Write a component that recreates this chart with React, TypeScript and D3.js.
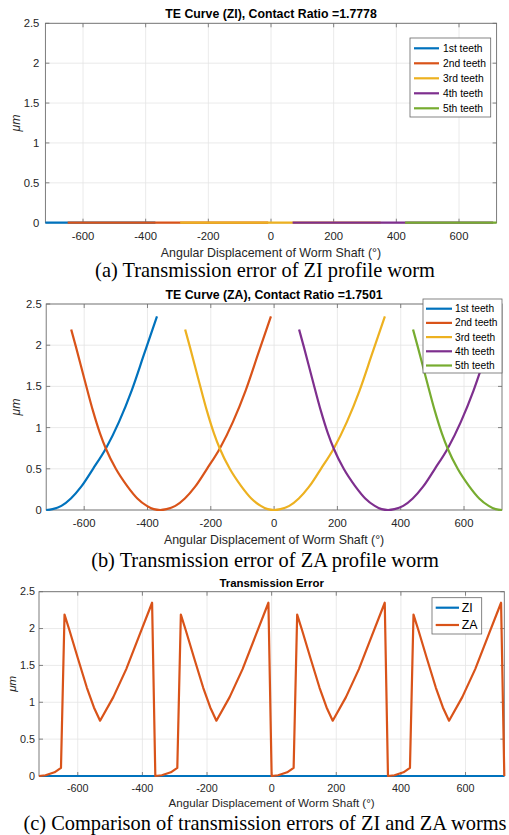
import React, { useRef, useEffect } from 'react';
import * as d3 from 'd3';

type Pt = [number, number];

// Axis ticks shared by the three plots
const xTicks = [-600, -400, -200, 0, 200, 400, 600];
const yTicks = [0, 0.5, 1, 1.5, 2, 2.5];

const toothNames = ['1st teeth', '2nd teeth', '3rd teeth', '4th teeth', '5th teeth'];
const toothColors = ['#0072BD', '#D95319', '#EDB120', '#7E2F8E', '#77AC30'];

// (a) ZI profile: each tooth stays at zero over its contact range
const ziTooth1: Pt[] = [[-720, 0], [-369, 0]];
const ziTooth2: Pt[] = [[-649, 0], [-9, 0]];
const ziTooth3: Pt[] = [[-290, 0], [350, 0]];
const ziTooth4: Pt[] = [[69, 0], [709, 0]];
const ziTooth5: Pt[] = [[428, 0], [720, 0]];

// (b) ZA profile
const zaTooth1: Pt[] = [
  [-720, 0], [-700, 0.01], [-672, 0.05], [-642, 0.14], [-610, 0.28], [-572, 0.5],
  [-531, 0.75], [-490, 1.07], [-450, 1.45], [-410, 1.9], [-370, 2.35],
];
const zaTooth2: Pt[] = [
  [-641, 2.19], [-626, 1.98], [-600, 1.6], [-572, 1.2], [-550, 0.93], [-531, 0.74],
  [-500, 0.5], [-464, 0.29], [-432, 0.14], [-402, 0.05], [-380, 0.01], [-360, 0],
  [-340, 0.01], [-312, 0.05], [-282, 0.14], [-250, 0.28], [-212, 0.5], [-171, 0.75],
  [-130, 1.07], [-90, 1.45], [-50, 1.9], [-10, 2.35],
];
const zaTooth3: Pt[] = [
  [-281, 2.19], [-266, 1.98], [-240, 1.6], [-212, 1.2], [-190, 0.93], [-171, 0.74],
  [-140, 0.5], [-104, 0.29], [-72, 0.14], [-42, 0.05], [-20, 0.01], [0, 0],
  [20, 0.01], [48, 0.05], [78, 0.14], [110, 0.28], [148, 0.5], [189, 0.75],
  [230, 1.07], [270, 1.45], [310, 1.9], [350, 2.35],
];
const zaTooth4: Pt[] = [
  [79, 2.19], [94, 1.98], [120, 1.6], [148, 1.2], [170, 0.93], [189, 0.74],
  [220, 0.5], [256, 0.29], [288, 0.14], [318, 0.05], [340, 0.01], [360, 0],
  [380, 0.01], [408, 0.05], [438, 0.14], [470, 0.28], [508, 0.5], [549, 0.75],
  [590, 1.07], [630, 1.45], [670, 1.9], [710, 2.35],
];
const zaTooth5: Pt[] = [
  [439, 2.19], [454, 1.98], [480, 1.6], [508, 1.2], [530, 0.93], [549, 0.74],
  [580, 0.5], [616, 0.29], [648, 0.14], [678, 0.05], [700, 0.01], [720, 0],
];

// (c) comparison of the two profiles
const compNames = ['ZI', 'ZA'];
const compColors = ['#0072BD', '#D95319'];
const compZI: Pt[] = [[-720, 0], [720, 0]];
const compZA: Pt[] = [
  [-720, 0], [-700, 0.01], [-672, 0.05], [-652, 0.11], [-641, 2.19], [-626, 1.98],
  [-600, 1.6], [-572, 1.2], [-550, 0.93], [-531, 0.75], [-490, 1.07], [-450, 1.45],
  [-410, 1.9], [-370, 2.35], [-360, 0], [-340, 0.01], [-312, 0.05], [-292, 0.11],
  [-281, 2.19], [-266, 1.98], [-240, 1.6], [-212, 1.2], [-190, 0.93], [-171, 0.75],
  [-130, 1.07], [-90, 1.45], [-50, 1.9], [-10, 2.35], [0, 0], [20, 0.01],
  [48, 0.05], [68, 0.11], [79, 2.19], [94, 1.98], [120, 1.6], [148, 1.2],
  [170, 0.93], [189, 0.75], [230, 1.07], [270, 1.45], [310, 1.9], [350, 2.35],
  [360, 0], [380, 0.01], [408, 0.05], [428, 0.11], [439, 2.19], [454, 1.98],
  [480, 1.6], [508, 1.2], [530, 0.93], [549, 0.75], [590, 1.07], [630, 1.45],
  [670, 1.9], [710, 2.35], [720, 0],
];

const SANS = 'Liberation Sans, Arial, Helvetica, sans-serif';
const SERIF = 'Liberation Serif, Times New Roman, serif';

const drawPanel = (svg: any, o: any) => {
  const x = d3.scaleLinear().domain([-720, 720]).range([o.left, o.right]);
  const y = d3.scaleLinear().domain([0, 2.5]).range([o.bottom, o.top]);
  const g = svg.append('g');

  g.append('rect')
    .attr('x', o.left).attr('y', o.top)
    .attr('width', o.right - o.left).attr('height', o.bottom - o.top)
    .attr('fill', 'white');

  // Grid lines
  g.selectAll('line.gx').data(xTicks).enter().append('line')
    .attr('x1', (d: number) => x(d)).attr('x2', (d: number) => x(d))
    .attr('y1', o.top).attr('y2', o.bottom)
    .attr('stroke', '#e4e4e4').attr('stroke-width', 0.8);
  g.selectAll('line.gy').data(yTicks).enter().append('line')
    .attr('x1', o.left).attr('x2', o.right)
    .attr('y1', (d: number) => y(d)).attr('y2', (d: number) => y(d))
    .attr('stroke', '#e4e4e4').attr('stroke-width', 0.8);

  // Inward tick marks on all four sides
  const tk = 4;
  xTicks.forEach((d) => {
    g.append('line').attr('x1', x(d)).attr('x2', x(d)).attr('y1', o.bottom).attr('y2', o.bottom - tk)
      .attr('stroke', '#666').attr('stroke-width', 0.8);
    g.append('line').attr('x1', x(d)).attr('x2', x(d)).attr('y1', o.top).attr('y2', o.top + tk)
      .attr('stroke', '#666').attr('stroke-width', 0.8);
  });
  yTicks.forEach((d) => {
    g.append('line').attr('x1', o.left).attr('x2', o.left + tk).attr('y1', y(d)).attr('y2', y(d))
      .attr('stroke', '#666').attr('stroke-width', 0.8);
    g.append('line').attr('x1', o.right).attr('x2', o.right - tk).attr('y1', y(d)).attr('y2', y(d))
      .attr('stroke', '#666').attr('stroke-width', 0.8);
  });

  // Axes box (data is drawn above it, as in MATLAB)
  g.append('rect')
    .attr('x', o.left).attr('y', o.top)
    .attr('width', o.right - o.left).attr('height', o.bottom - o.top)
    .attr('fill', 'none').attr('stroke', '#6e6e6e').attr('stroke-width', 0.9);

  // Curves
  const line = d3.line<Pt>()
    .x((d) => x(d[0]))
    .y((d) => y(d[1]))
    .curve(o.smooth ? d3.curveMonotoneX : d3.curveLinear);
  o.series.forEach((s: any) => {
    g.append('path')
      .attr('d', line(s.pts))
      .attr('fill', 'none')
      .attr('stroke', s.color)
      .attr('stroke-width', 2.2)
      .attr('stroke-linejoin', 'round');
  });

  // Tick labels
  g.selectAll('text.xt').data(xTicks).enter().append('text')
    .attr('x', (d: number) => x(d)).attr('y', o.xTickY)
    .attr('text-anchor', 'middle')
    .attr('font-family', SANS).attr('font-size', o.tickSize).attr('fill', '#262626')
    .text((d: number) => String(d));
  g.selectAll('text.yt').data(yTicks).enter().append('text')
    .attr('x', o.left - o.yTickGap).attr('y', (d: number) => y(d))
    .attr('dy', '0.35em')
    .attr('text-anchor', 'end')
    .attr('font-family', SANS).attr('font-size', o.tickSize).attr('fill', '#262626')
    .text((d: number) => String(d));

  // Title and axis labels
  g.append('text')
    .attr('x', (o.left + o.right) / 2).attr('y', o.titleY)
    .attr('text-anchor', 'middle')
    .attr('font-family', SANS).attr('font-size', o.titleSize).attr('font-weight', 'bold').attr('fill', '#000')
    .text(o.title);
  g.append('text')
    .attr('x', (o.left + o.right) / 2).attr('y', o.xLabelY)
    .attr('text-anchor', 'middle')
    .attr('font-family', SANS).attr('font-size', o.labelSize).attr('fill', '#262626')
    .text('Angular Displacement of Worm Shaft (°)');
  g.append('text')
    .attr('transform', `translate(${o.yLabelX},${(o.top + o.bottom) / 2}) rotate(-90)`)
    .attr('dy', '0.35em')
    .attr('text-anchor', 'middle')
    .attr('font-family', SANS).attr('font-size', o.labelSize).attr('font-style', 'italic').attr('fill', '#262626')
    .text('μm');

  // Legend
  const L = o.legend;
  g.append('rect')
    .attr('x', L.x).attr('y', L.y).attr('width', L.w).attr('height', L.h)
    .attr('fill', 'white').attr('stroke', '#666').attr('stroke-width', 0.8);
  o.series.forEach((s: any, i: number) => {
    const ry = L.firstY + i * L.rowH;
    g.append('line')
      .attr('x1', L.x1).attr('x2', L.x2).attr('y1', ry).attr('y2', ry)
      .attr('stroke', s.color).attr('stroke-width', 2.2);
    g.append('text')
      .attr('x', L.textX).attr('y', ry).attr('dy', '0.35em')
      .attr('font-family', SANS).attr('font-size', L.size).attr('fill', '#000')
      .text(s.name);
  });

  // Figure caption below the plot
  svg.append('text')
    .attr('x', 265).attr('y', o.captionY)
    .attr('text-anchor', 'middle')
    .attr('font-family', SERIF).attr('font-size', 20.4).attr('fill', '#000')
    .text(o.caption);
};

const App = () => {
  const d3Container = useRef<SVGSVGElement | null>(null);

  useEffect(() => {
    if (!d3Container.current) return;
    const svg = d3.select(d3Container.current);
    svg.selectAll('*').remove();

    const ziTeeth = [ziTooth1, ziTooth2, ziTooth3, ziTooth4, ziTooth5];
    const zaTeeth = [zaTooth1, zaTooth2, zaTooth3, zaTooth4, zaTooth5];

    drawPanel(svg, {
      left: 45.4, right: 496.6, top: 23.3, bottom: 222.7,
      title: 'TE Curve (ZI), Contact Ratio =1.7778', titleY: 18.3, titleSize: 12.3,
      tickSize: 11.3, labelSize: 12.4, xTickY: 240, xLabelY: 257, yTickGap: 6, yLabelX: 16,
      smooth: false,
      series: ziTeeth.map((pts, i) => ({ pts, color: toothColors[i], name: toothNames[i] })),
      legend: { x: 410, y: 38, w: 80.7, h: 79, firstY: 48.3, rowH: 15, x1: 414, x2: 439, textX: 443, size: 10.3 },
      caption: '(a) Transmission error of ZI profile worm', captionY: 277,
    });

    drawPanel(svg, {
      left: 46.2, right: 502, top: 304, bottom: 510,
      title: 'TE Curve (ZA), Contact Ratio =1.7501', titleY: 299.3, titleSize: 12.3,
      tickSize: 11.3, labelSize: 12.4, xTickY: 527, xLabelY: 543.5, yTickGap: 4.5, yLabelX: 16,
      smooth: true,
      series: zaTeeth.map((pts, i) => ({ pts, color: toothColors[i], name: toothNames[i] })),
      legend: { x: 423, y: 299, w: 79, h: 74, firstY: 308.7, rowH: 14.2, x1: 426, x2: 452, textX: 455, size: 10.2 },
      caption: '(b) Transmission error of ZA profile worm', captionY: 567,
    });

    drawPanel(svg, {
      left: 39, right: 504.3, top: 591.7, bottom: 776,
      title: 'Transmission Error', titleY: 587, titleSize: 11.4,
      tickSize: 10.8, labelSize: 11.6, xTickY: 792, xLabelY: 807, yTickGap: 4, yLabelX: 12,
      smooth: false,
      series: [compZI, compZA].map((pts, i) => ({ pts, color: compColors[i], name: compNames[i] })),
      legend: { x: 432, y: 597.7, w: 49.7, h: 36.3, firstY: 607.7, rowH: 17.3, x1: 435.7, x2: 459, textX: 461.7, size: 12.4 },
      caption: '(c) Comparison of transmission errors of ZI and ZA worms', captionY: 830,
    });
  }, []);

  return (
    <svg
      ref={d3Container}
      width={509}
      height={835}
      style={{ position: 'absolute', left: 0, top: 0, background: 'white' }}
    />
  );
};

export default App;
